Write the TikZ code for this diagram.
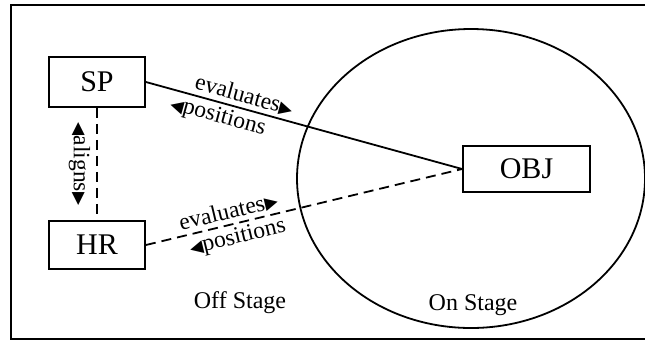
\documentclass[tikz,border=0pt]{standalone}
\usepackage{fontspec}
\setmainfont{Liberation Serif}
\newfontfamily\symfont{DejaVu Sans}
\usetikzlibrary{shapes.geometric}

% small filled pointers set inside the edge labels
\newcommand{\tipright}{{\symfont\fontsize{17}{17}\selectfont ▶}}
\newcommand{\tipleft}{{\symfont\fontsize{17}{17}\selectfont ◀}}

\tikzset{
  every node/.style={font=\fontsize{23.5}{28}\selectfont},
  box/.style={draw, line width=1.8pt, inner sep=0pt,
              font=\fontsize{30}{34}\selectfont,
              minimum width=96pt, minimum height=50pt},
  conn/.style={line width=1.8pt},
  dashconn/.style={line width=1.8pt, dash pattern=on 10pt off 6pt},
  lblup/.style={sloped, above, inner sep=3pt},
  lbldown/.style={sloped, below, inner sep=3.5pt},
  caption/.style={font=\fontsize{24}{28}\selectfont}
}

\begin{document}
\begin{tikzpicture}[x=1pt, y=-1pt]
  \useasboundingbox (0,0) rectangle (645,341);
  \clip (0,0) rectangle (645,341);

  % outer frame, running on past the right edge of the page
  \draw[line width=2pt] (660,4.5) -- (10.5,4.5) -- (10.5,339) -- (660,339);

  % on-stage area
  \node[draw, ellipse, line width=1.8pt, inner sep=0pt,
        minimum width=348pt, minimum height=299pt] (stage) at (471,178.5) {};

  % participants
  \node[box] (SP) at (97,82) {SP};
  \node[box, minimum height=48pt] (HR) at (97,245) {HR};
  \node[box, minimum width=127pt, minimum height=46pt] (OBJ) at (526.5,169) {OBJ};

  % relations
  \draw[conn] (SP.east) -- (OBJ.west)
    node[lblup, pos=0.3] {evaluates\tipright}
    node[lbldown, pos=0.24] {\tipleft positions};
  \draw[dashconn] (HR.east) -- (OBJ.west)
    node[lblup, pos=0.27] {evaluates\tipright}
    node[lbldown, pos=0.28] {\tipleft positions};
  \draw[dashconn] (SP.south) -- (HR.north)
    node[midway, xshift=-6pt, rotate=-90, anchor=north, inner sep=0pt] {\tipleft aligns\tipright};

  % region captions
  \node[caption] (off) at (240,303) {Off Stage};
  \node[caption] (on) at (473,305) {On Stage};
\end{tikzpicture}
\end{document}
